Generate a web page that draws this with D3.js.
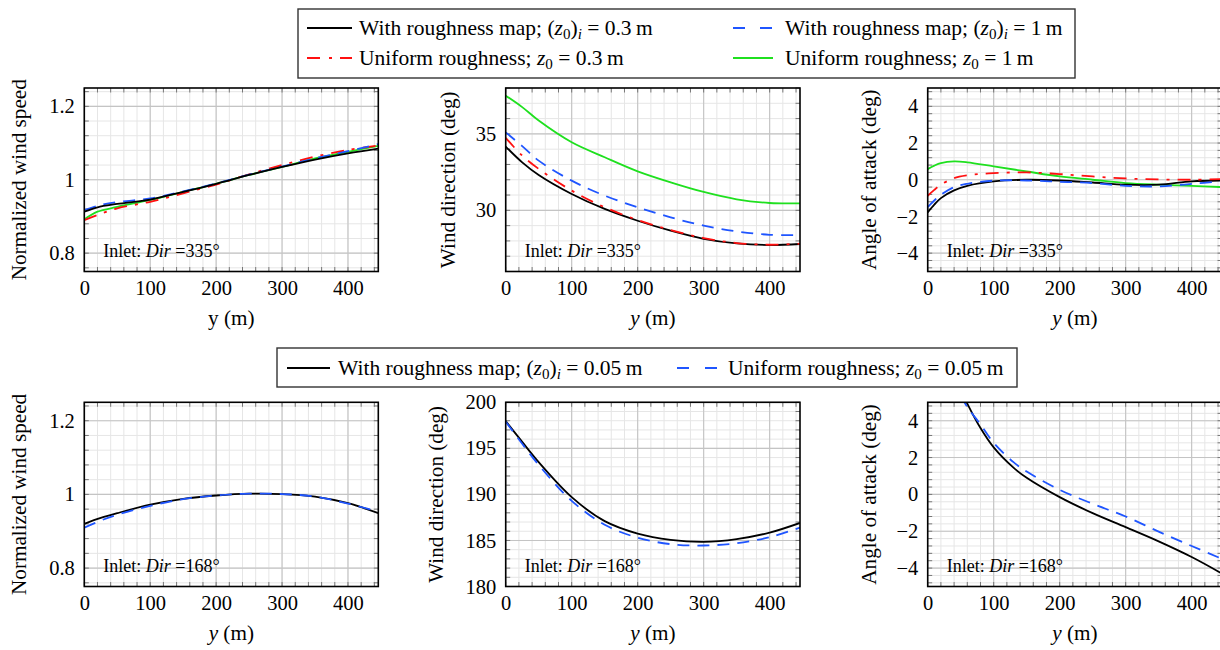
<!DOCTYPE html>
<html><head><meta charset="utf-8">
<script src="https://cdn.jsdelivr.net/npm/d3@7"></script>
<style>
body{margin:0;background:#fff}
text{font-family:"Liberation Serif","Times New Roman",serif;fill:#000}
</style>
</head><body>
<svg id="c" width="1220" height="650"></svg>
<script>
// ---------------- DATA ----------------
const xTicks = [0, 100, 200, 300, 400];
// Top row: inlet Dir = 335°
const x335speed = [0, 20, 50, 100, 150, 200, 250, 300, 350, 400, 446];
const speed335Map03 = [0.913, 0.925, 0.934, 0.946, 0.967, 0.989, 1.013, 1.035, 1.055, 1.072, 1.085];
const speed335Map1  = [0.917, 0.929, 0.939, 0.949, 0.968, 0.990, 1.014, 1.036, 1.058, 1.078, 1.097];
const speed335Uni03 = [0.890, 0.904, 0.922, 0.940, 0.963, 0.987, 1.015, 1.040, 1.063, 1.081, 1.093];
const speed335Uni1  = [0.892, 0.913, 0.926, 0.945, 0.967, 0.989, 1.013, 1.035, 1.058, 1.076, 1.092];

const x335dir = [0, 25, 50, 100, 150, 200, 250, 300, 350, 400, 446];
const dir335Map03 = [34.17, 33.14, 32.31, 31.07, 30.09, 29.32, 28.67, 28.14, 27.84, 27.73, 27.80];
const dir335Map1  = [35.10, 34.20, 33.25, 31.94, 30.96, 30.20, 29.54, 29.00, 28.62, 28.40, 28.38];
const dir335Uni03 = [34.74, 33.58, 32.71, 31.29, 30.20, 29.37, 28.71, 28.19, 27.86, 27.75, 27.82];
const dir335Uni1  = [37.50, 36.75, 35.87, 34.45, 33.47, 32.55, 31.83, 31.20, 30.72, 30.48, 30.46];

const x335aoa = [0, 10, 20, 40, 60, 100, 150, 200, 250, 300, 350, 400, 446];
const aoa335Map03 = [-1.78, -1.36, -1.00, -0.58, -0.33, -0.09, 0.00, -0.04, -0.15, -0.27, -0.27, -0.09, -0.04];
const aoa335Map1  = [-1.49, -1.13, -0.82, -0.40, -0.22, -0.05, -0.04, -0.11, -0.18, -0.33, -0.36, -0.22, -0.09];
const aoa335Uni03 = [-0.87, -0.55, -0.27, 0.09, 0.24, 0.36, 0.40, 0.31, 0.18, 0.07, 0.02, 0.00, 0.04];
const aoa335Uni1  = [0.58, 0.77, 0.91, 1.00, 0.95, 0.73, 0.45, 0.18, 0.00, -0.18, -0.27, -0.33, -0.40];

// Bottom row: inlet Dir = 168°
const x168speed = [0, 25, 50, 100, 150, 200, 250, 300, 350, 400, 446];
const speed168Map = [0.920, 0.936, 0.949, 0.972, 0.988, 0.997, 1.002, 1.001, 0.994, 0.976, 0.949];
const speed168Uni = [0.910, 0.929, 0.945, 0.969, 0.987, 0.997, 1.002, 1.001, 0.994, 0.975, 0.953];

const x168dir = [0, 25, 50, 100, 150, 200, 250, 300, 350, 400, 446];
const dir168Map = [197.96, 195.7, 193.5, 189.7, 187.1, 185.75, 185.07, 184.85, 185.15, 185.85, 186.9];
const dir168Uni = [197.9, 195.5, 193.2, 189.3, 186.7, 185.3, 184.6, 184.45, 184.7, 185.35, 186.4];

const x168aoa = [50, 60, 80, 100, 130, 150, 200, 250, 300, 350, 400, 446];
const aoa168Map = [5.70, 4.93, 3.60, 2.55, 1.45, 0.90, -0.15, -1.02, -1.78, -2.55, -3.40, -4.30];
const aoa168Uni = [5.35, 4.75, 3.80, 2.80, 1.75, 1.24, 0.25, -0.51, -1.20, -2.02, -2.80, -3.50];

// ---------------- STYLES ----------------
const styles = {
  map03: {color: "#000000", dash: null, w: 1.8},
  map1:  {color: "#1f55ff", dash: "12 8", w: 1.8},
  uni03: {color: "#ff1010", dash: "13 8 3 8", w: 1.8},
  uni1:  {color: "#1fe01f", dash: null, w: 1.8},
  map005:{color: "#000000", dash: null, w: 1.8},
  uni005:{color: "#1f55ff", dash: "12 8", w: 1.8}
};

const svg = d3.select("#c");
const FS = 20.5, FL = 21.2, FLEG = 21.5;

const top1 = 88, bot1 = 271.5, top2 = 402.3, bot2 = 586.5;
const panels = [
  {l:84.3, r:378.3, t:top1, b:bot1, ydom:[0.75,1.25], yMajor:[0.8,1,1.2], yMinor:0.04, ylabel:"Normalized wind speed", ylabX:26, yItalic:false, dir:"335",
   series:[["uni1",x335speed,speed335Uni1],["uni03",x335speed,speed335Uni03],["map1",x335speed,speed335Map1],["map03",x335speed,speed335Map03]]},
  {l:505.7, r:800, t:top1, b:bot1, ydom:[26,38], yMajor:[30,35], yMinor:1, ylabel:"Wind direction (deg)", ylabX:455, yItalic:true, dir:"335",
   series:[["uni1",x335dir,dir335Uni1],["map03",x335dir,dir335Map03],["uni03",x335dir,dir335Uni03],["map1",x335dir,dir335Map1]]},
  {l:927.7, r:1222, t:top1, b:bot1, ydom:[-5,5], yMajor:[-4,-2,0,2,4], yMinor:0.4, ylabel:"Angle of attack (deg)", ylabX:876, yItalic:true, dir:"335",
   series:[["uni1",x335aoa,aoa335Uni1],["map03",x335aoa,aoa335Map03],["map1",x335aoa,aoa335Map1],["uni03",x335aoa,aoa335Uni03]]},
  {l:84.3, r:378.3, t:top2, b:bot2, ydom:[0.75,1.25], yMajor:[0.8,1,1.2], yMinor:0.04, ylabel:"Normalized wind speed", ylabX:26, yItalic:true, dir:"168",
   series:[["map005",x168speed,speed168Map],["uni005",x168speed,speed168Uni]]},
  {l:505.7, r:800, t:top2, b:bot2, ydom:[180,200], yMajor:[180,185,190,195,200], yMinor:1, ylabel:"Wind direction (deg)", ylabX:443, yItalic:true, dir:"168",
   series:[["map005",x168dir,dir168Map],["uni005",x168dir,dir168Uni]]},
  {l:927.7, r:1222, t:top2, b:bot2, ydom:[-5,5], yMajor:[-4,-2,0,2,4], yMinor:0.4, ylabel:"Angle of attack (deg)", ylabX:876, yItalic:true, dir:"168",
   series:[["map005",x168aoa,aoa168Map],["uni005",x168aoa,aoa168Uni]]}
];

const defs = svg.append("defs");

panels.forEach((p, i) => {
  const x = d3.scaleLinear().domain([0, 446]).range([p.l, p.r]);
  const y = d3.scaleLinear().domain(p.ydom).range([p.b, p.t]);
  const g = svg.append("g");

  const xMinor = d3.range(0, 446.01, 20);
  const yMinor = d3.range(Math.ceil(p.ydom[0] / p.yMinor - 1e-9), Math.floor(p.ydom[1] / p.yMinor + 1e-9) + 1).map(k => +(k * p.yMinor).toFixed(6));

  g.selectAll(".vminor").data(xMinor).join("line")
    .attr("x1", d => x(d)).attr("x2", d => x(d)).attr("y1", p.t).attr("y2", p.b)
    .attr("stroke", "#e6e6e6").attr("stroke-width", 1);
  g.selectAll(".hminor").data(yMinor).join("line")
    .attr("y1", d => y(d)).attr("y2", d => y(d)).attr("x1", p.l).attr("x2", p.r)
    .attr("stroke", "#e6e6e6").attr("stroke-width", 1);
  g.selectAll(".vmajor").data(xTicks).join("line")
    .attr("x1", d => x(d)).attr("x2", d => x(d)).attr("y1", p.t).attr("y2", p.b)
    .attr("stroke", "#c4c4c4").attr("stroke-width", 1.1);
  g.selectAll(".hmajor").data(p.yMajor).join("line")
    .attr("y1", d => y(d)).attr("y2", d => y(d)).attr("x1", p.l).attr("x2", p.r)
    .attr("stroke", "#c4c4c4").attr("stroke-width", 1.1);
  const tl = 4.5;
  xMinor.forEach(d => {
    g.append("line").attr("x1", x(d)).attr("x2", x(d)).attr("y1", p.b).attr("y2", p.b - tl).attr("stroke", "#777").attr("stroke-width", 1);
    g.append("line").attr("x1", x(d)).attr("x2", x(d)).attr("y1", p.t).attr("y2", p.t + tl).attr("stroke", "#777").attr("stroke-width", 1);
  });
  yMinor.forEach(d => {
    g.append("line").attr("y1", y(d)).attr("y2", y(d)).attr("x1", p.l).attr("x2", p.l + tl).attr("stroke", "#777").attr("stroke-width", 1);
    g.append("line").attr("y1", y(d)).attr("y2", y(d)).attr("x1", p.r).attr("x2", p.r - tl).attr("stroke", "#777").attr("stroke-width", 1);
  });

  const cid = "clip" + i;
  defs.append("clipPath").attr("id", cid).append("rect")
    .attr("x", p.l).attr("y", p.t).attr("width", p.r - p.l).attr("height", p.b - p.t);

  const cg = g.append("g").attr("clip-path", `url(#${cid})`);
  p.series.forEach(([key, xs, ys]) => {
    const st = styles[key];
    const pts = xs.map((d, k) => [d, ys[k]]);
    const line = d3.line().x(d => x(d[0])).y(d => y(d[1])).curve(d3.curveCatmullRom.alpha(0.5));
    cg.append("path").attr("d", line(pts)).attr("fill", "none")
      .attr("stroke", st.color).attr("stroke-width", st.w)
      .attr("stroke-dasharray", st.dash).attr("stroke-linejoin", "round");
  });

  g.append("rect").attr("x", p.l).attr("y", p.t).attr("width", p.r - p.l).attr("height", p.b - p.t)
    .attr("fill", "none").attr("stroke", "#000").attr("stroke-width", 1.6);

  const ax = g.append("g").attr("transform", `translate(0,${p.b})`)
    .call(d3.axisBottom(x).tickValues(xTicks).tickSize(0).tickPadding(9).tickFormat(d3.format("d")));
  ax.select(".domain").remove();
  ax.selectAll("text").attr("font-size", FS);
  ax.attr("font-family", null);

  const ay = g.append("g").attr("transform", `translate(${p.l},0)`)
    .call(d3.axisLeft(y).tickValues(p.yMajor).tickSize(0).tickPadding(9.5).tickFormat(d3.format("~g")));
  ay.select(".domain").remove();
  ay.selectAll("text").attr("font-size", FS);
  ay.attr("font-family", null);

  const xl = g.append("text").attr("x", (p.l + p.r) / 2).attr("y", p.b + 53.5)
    .attr("text-anchor", "middle").attr("font-size", FL);
  xl.append("tspan").attr("font-style", p.yItalic ? "italic" : "normal").text("y");
  xl.append("tspan").text(" (m)");

  g.append("text").attr("transform", `translate(${p.ylabX},${(p.t + p.b) / 2}) rotate(-90)`)
    .attr("text-anchor", "middle").attr("font-size", FL).text(p.ylabel);

  const nt = g.append("text").attr("x", p.l + 19).attr("y", p.b - 15).attr("font-size", 18);
  nt.append("tspan").text("Inlet: ");
  nt.append("tspan").attr("font-style", "italic").text("Dir");
  nt.append("tspan").text(" =" + p.dir + "°");
});

// ---------------- LEGENDS ----------------
function legendText(sel, parts) {
  parts.forEach(pt => {
    const ts = sel.append("tspan").text(pt.t);
    if (pt.i) ts.attr("font-style", "italic");
    if (pt.sub) ts.attr("font-size", FLEG * 0.7);
    if (pt.dy) ts.attr("dy", pt.dy);
  });
}
const mapLabel = v => [{t:"With roughness map; ("},{t:"z",i:true},{t:"0",sub:true,dy:4},{t:")",dy:-4},{t:"i",i:true,sub:true,dy:4},{t:" = " + v + "\u2009m",dy:-4}];
const uniLabel = v => [{t:"Uniform roughness; "},{t:"z",i:true},{t:"0",sub:true,dy:4},{t:" = " + v + "\u2009m",dy:-4}];

const legends = [
  {box:[298, 9, 777, 69], items:[
    {key:"map03", x1:307, x2:352, tx:359, y:35, lab:mapLabel("0.3"), ldash:null},
    {key:"map1", x1:733, x2:773, tx:785, y:35, lab:mapLabel("1"), ldash:"12 15"},
    {key:"uni03", x1:307, x2:352, tx:359, y:65, lab:uniLabel("0.3"), ldash:"13 9 3 8"},
    {key:"uni1", x1:733, x2:773, tx:785, y:65, lab:uniLabel("1"), ldash:null}
  ]},
  {box:[277, 348, 740, 39], items:[
    {key:"map005", x1:287, x2:330, tx:338, y:375, lab:mapLabel("0.05"), ldash:null},
    {key:"uni005", x1:677, x2:718, tx:728, y:375, lab:uniLabel("0.05"), ldash:"12 16"}
  ]}
];
legends.forEach(L => {
  const g = svg.append("g");
  g.append("rect").attr("x", L.box[0]).attr("y", L.box[1]).attr("width", L.box[2]).attr("height", L.box[3])
    .attr("fill", "#fff").attr("stroke", "#333").attr("stroke-width", 1.4);
  L.items.forEach(it => {
    const st = styles[it.key];
    g.append("line").attr("x1", it.x1).attr("x2", it.x2).attr("y1", it.y - 7).attr("y2", it.y - 7)
      .attr("stroke", st.color).attr("stroke-width", st.w).attr("stroke-dasharray", it.ldash);
    const t = g.append("text").attr("x", it.tx).attr("y", it.y).attr("font-size", FLEG);
    legendText(t, it.lab);
  });
});
</script>
</body></html>
